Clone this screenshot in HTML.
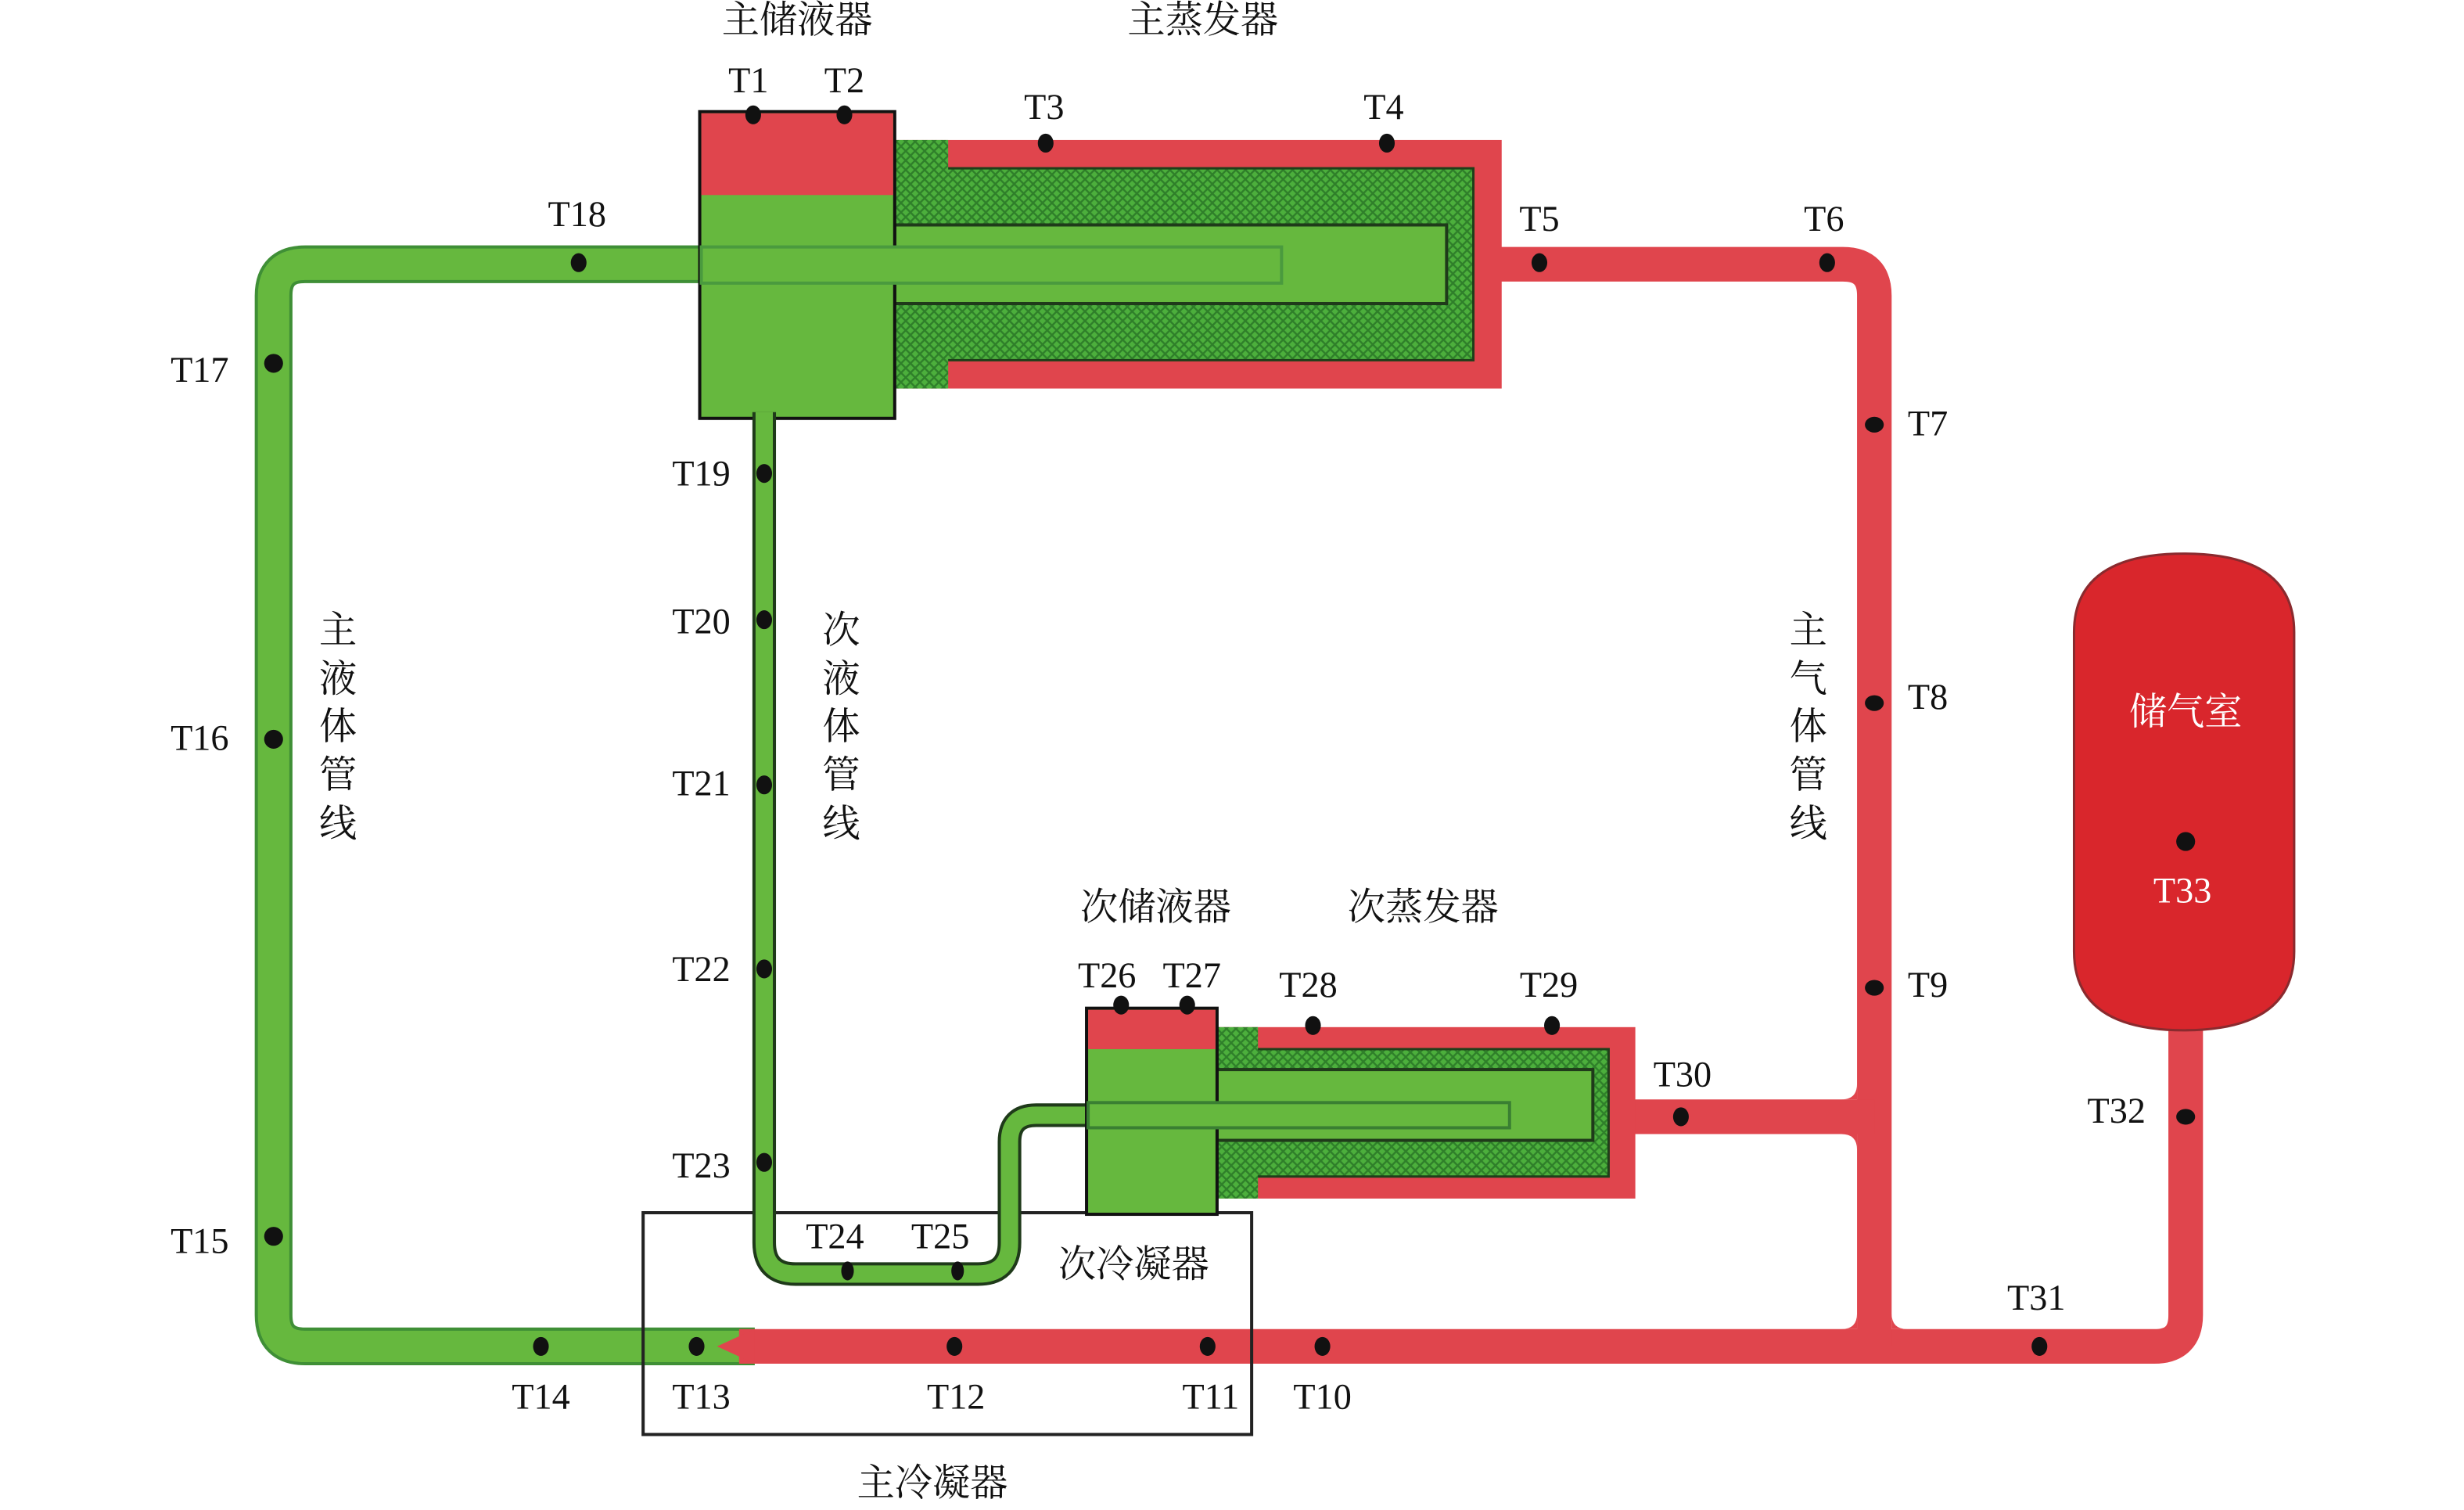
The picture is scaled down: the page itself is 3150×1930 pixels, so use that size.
<!DOCTYPE html>
<html><head><meta charset="utf-8"><style>
html,body{margin:0;padding:0;background:#fff;}
svg{display:block;}
text{font-family:"Liberation Serif","Noto Serif CJK SC","Noto Sans CJK SC",serif;fill:#111;}
.t{font-size:23px;text-anchor:middle;dominant-baseline:central;}
.c{font-size:24px;text-anchor:middle;dominant-baseline:central;}
</style></head><body>
<svg width="3150" height="1930" viewBox="0 0 1567 960" preserveAspectRatio="none" xmlns="http://www.w3.org/2000/svg">
<defs>
<pattern id="h" width="6" height="6" patternUnits="userSpaceOnUse">
<rect width="6" height="6" fill="#4caf3c"/>
<path d="M0 0L6 6M6 0L0 6" stroke="#2f7f2a" stroke-width="1.2"/>
</pattern>
</defs>
<g fill="none" stroke-linejoin="round">
<path d="M480 856 H194 Q174 856 174 836 V188 Q174 168 194 168 H450" stroke="#3f8f36" stroke-width="24"/>
<path d="M480 856 H194 Q174 856 174 836 V188 Q174 168 194 168 H450" stroke="#66b83e" stroke-width="20"/>
<path d="M470 856 H1370 Q1390 856 1390 836 V640" stroke="#e0454d" stroke-width="22"/>
<path d="M950 168 H1172 Q1192 168 1192 188 V856" stroke="#e0454d" stroke-width="22"/>
<path d="M1035 710 H1192" stroke="#e0454d" stroke-width="22"/>
</g>
<g fill="#e0454d">
<path d="M1181 689 L1181 699 L1171 699 Q1181 699 1181 689Z"/>
<path d="M1181 731 L1181 721 L1171 721 Q1181 721 1181 731Z"/>
<path d="M1181 835 L1181 845 L1171 845 Q1181 845 1181 835Z"/>
<path d="M1203 835 L1203 845 L1213 845 Q1203 845 1203 835Z"/>
</g>
<polygon points="456,856 480,845 480,867" fill="#e0454d"/>
<rect x="409" y="771" width="387" height="141" fill="none" stroke="#222" stroke-width="2"/>
<rect x="569" y="89" width="386" height="158" fill="#e0454d"/>
<rect x="569" y="107" width="368" height="122" fill="url(#h)" stroke="#1f3f1a" stroke-width="1.5"/>
<rect x="569" y="89" width="34" height="158" fill="url(#h)"/>
<rect x="569" y="143" width="351" height="50" fill="#66b83e" stroke="#1f3a1a" stroke-width="2"/>
<rect x="445" y="71" width="124" height="195" fill="#66b83e" stroke="#111" stroke-width="2"/>
<rect x="446" y="72" width="122" height="52" fill="#e0454d"/>
<rect x="446" y="157" width="369" height="23" fill="#66b83e" stroke="#4a9a3e" stroke-width="2"/>
<g fill="none" stroke-linejoin="round">
<path d="M486 262 V790 Q486 810 506 810 H622 Q642 810 642 790 V726 Q642 709 659 709 H960" stroke="#1f3a1a" stroke-width="15"/>
<path d="M486 262 V790 Q486 810 506 810 H622 Q642 810 642 790 V726 Q642 709 659 709 H960" stroke="#66b83e" stroke-width="11"/>
</g>
<rect x="774" y="653" width="266" height="109" fill="#e0454d"/>
<rect x="774" y="667" width="249" height="81" fill="url(#h)" stroke="#1f3f1a" stroke-width="1.5"/>
<rect x="774" y="653" width="26" height="109" fill="url(#h)"/>
<rect x="774" y="680" width="239" height="45" fill="#66b83e" stroke="#1f3a1a" stroke-width="2"/>
<rect x="691" y="641" width="83" height="131" fill="#66b83e" stroke="#111" stroke-width="2"/>
<rect x="692" y="642" width="81" height="25" fill="#e0454d"/>
<rect x="692" y="701" width="268" height="16" fill="#66b83e" stroke="#3a7f32" stroke-width="2"/>
<path d="M1319 402 Q1319 352 1389 352 Q1459 352 1459 402 V605 Q1459 655 1389 655 Q1319 655 1319 605 Z" fill="#d9262c" stroke="#8a2a2e" stroke-width="1.5"/>
<g fill="#111">
<ellipse cx="479" cy="73" rx="5" ry="6"/><ellipse cx="537" cy="73" rx="5" ry="6"/>
<ellipse cx="665" cy="91" rx="5" ry="6"/><ellipse cx="882" cy="91" rx="5" ry="6"/>
<ellipse cx="979" cy="167" rx="5" ry="6"/><ellipse cx="1162" cy="167" rx="5" ry="6"/>
<ellipse cx="1192" cy="270" rx="6" ry="5"/><ellipse cx="1192" cy="447" rx="6" ry="5"/><ellipse cx="1192" cy="628" rx="6" ry="5"/>
<ellipse cx="1069" cy="710" rx="5" ry="6"/><ellipse cx="1390" cy="710" rx="6" ry="5"/>
<ellipse cx="1297" cy="856" rx="5" ry="6"/><circle cx="1390" cy="535" r="6"/>
<ellipse cx="841" cy="856" rx="5" ry="6"/><ellipse cx="768" cy="856" rx="5" ry="6"/>
<ellipse cx="607" cy="856" rx="5" ry="6"/><ellipse cx="443" cy="856" rx="5" ry="6"/><ellipse cx="344" cy="856" rx="5" ry="6"/>
<ellipse cx="174" cy="786" rx="6" ry="6"/><ellipse cx="174" cy="470" rx="6" ry="6"/><ellipse cx="174" cy="231" rx="6" ry="6"/>
<ellipse cx="368" cy="167" rx="5" ry="6"/>
<ellipse cx="486" cy="301" rx="5" ry="6"/><ellipse cx="486" cy="394" rx="5" ry="6"/><ellipse cx="486" cy="499" rx="5" ry="6"/>
<ellipse cx="486" cy="616" rx="5" ry="6"/><ellipse cx="486" cy="739" rx="5" ry="6"/>
<ellipse cx="539" cy="808" rx="4" ry="6"/><ellipse cx="609" cy="808" rx="4" ry="6"/>
<ellipse cx="713" cy="639" rx="5" ry="6"/><ellipse cx="755" cy="639" rx="5" ry="6"/>
<ellipse cx="835" cy="652" rx="5" ry="6"/><ellipse cx="987" cy="652" rx="5" ry="6"/>
</g>
<g>
<text class="t" x="476" y="51">T1</text><text class="t" x="537" y="51">T2</text>
<text class="t" x="664" y="68">T3</text><text class="t" x="880" y="68">T4</text>
<text class="t" x="979" y="139">T5</text><text class="t" x="1160" y="139">T6</text>
<text class="t" x="1226" y="269">T7</text><text class="t" x="1226" y="443">T8</text><text class="t" x="1226" y="626">T9</text>
<text class="t" x="1070" y="683">T30</text><text class="t" x="1346" y="706">T32</text>
<text class="t" x="1295" y="825">T31</text>
<text class="t" x="841" y="888">T10</text><text class="t" x="770" y="888">T11</text>
<text class="t" x="608" y="888">T12</text><text class="t" x="446" y="888">T13</text><text class="t" x="344" y="888">T14</text>
<text class="t" x="127" y="789">T15</text><text class="t" x="127" y="469">T16</text><text class="t" x="127" y="235">T17</text>
<text class="t" x="367" y="136">T18</text>
<text class="t" x="446" y="301">T19</text><text class="t" x="446" y="395">T20</text><text class="t" x="446" y="498">T21</text>
<text class="t" x="446" y="616">T22</text><text class="t" x="446" y="741">T23</text>
<text class="t" x="531" y="786">T24</text><text class="t" x="598" y="786">T25</text>
<text class="t" x="704" y="620">T26</text><text class="t" x="758" y="620">T27</text>
<text class="t" x="832" y="626">T28</text><text class="t" x="985" y="626">T29</text>
<text class="t" x="1388" y="566" style="fill:#fff">T33</text>
</g>
<text class="c" x="1390" y="453" style="fill:#fff">储气室</text>
<text class="c" x="507" y="13">主储液器</text>
<text class="c" x="765" y="13">主蒸发器</text>
<text class="c" x="735" y="577">次储液器</text>
<text class="c" x="905" y="577">次蒸发器</text>
<text class="c" x="721" y="804">次冷凝器</text>
<text class="c" x="593" y="943">主冷凝器</text>
<g>
<text class="c" x="215" y="401">主</text><text class="c" x="215" y="432">液</text><text class="c" x="215" y="462">体</text><text class="c" x="215" y="493">管</text><text class="c" x="215" y="524">线</text>
<text class="c" x="535" y="401">次</text><text class="c" x="535" y="432">液</text><text class="c" x="535" y="462">体</text><text class="c" x="535" y="493">管</text><text class="c" x="535" y="524">线</text>
<text class="c" x="1150" y="401">主</text><text class="c" x="1150" y="432">气</text><text class="c" x="1150" y="462">体</text><text class="c" x="1150" y="493">管</text><text class="c" x="1150" y="524">线</text>
</g>
</svg>
</body></html>
